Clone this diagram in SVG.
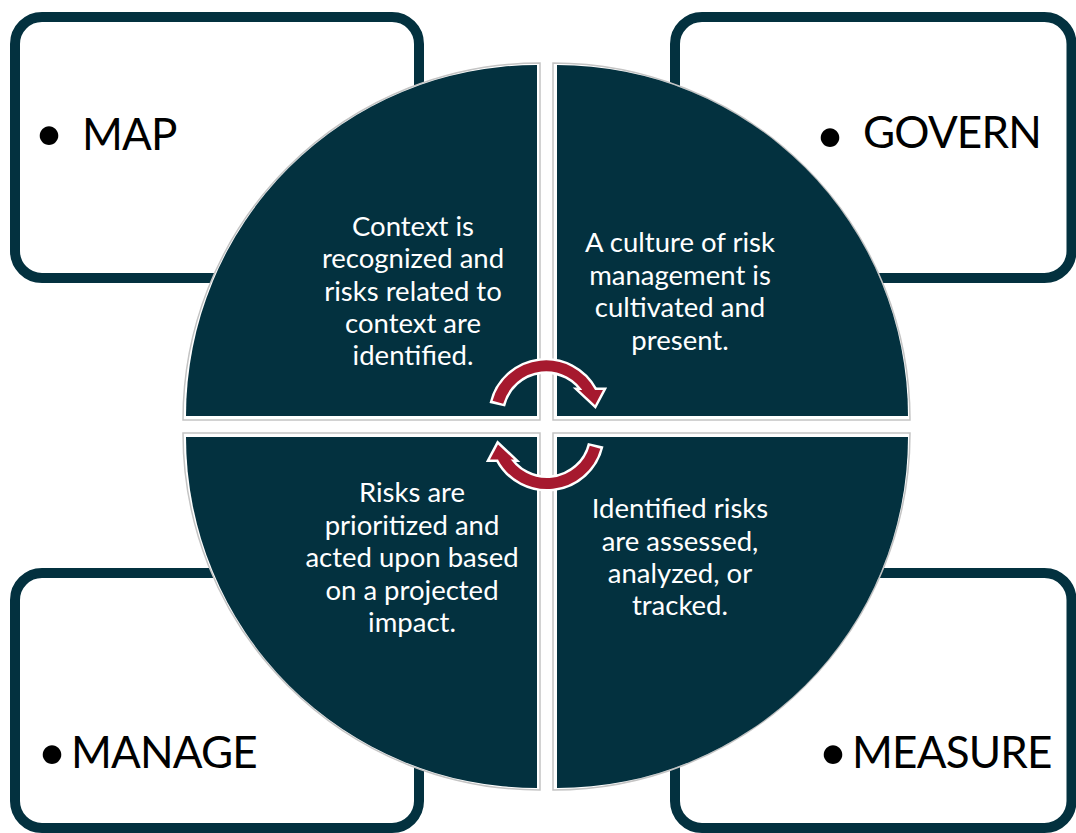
<svg xmlns="http://www.w3.org/2000/svg" width="1076" height="833" viewBox="0 0 1076 833">
<style>
.box{fill:#fff;stroke:#03313f;stroke-width:10}
.lbl{font-family:Lato,"Open Sans",sans-serif;font-size:44px;letter-spacing:-0.8px;fill:#000}
.bul{font-family:Lato,"Open Sans",sans-serif;font-size:50px;fill:#000;text-anchor:middle}
.ring{fill:#fff;stroke:#c4c4c4;stroke-width:1.5}
.q{fill:#03313f}
.qt{font-family:Lato,"Open Sans",sans-serif;font-size:27.5px;fill:#fff;text-anchor:middle}
.aw{fill:none;stroke:#fff;stroke-width:16}
.ar{fill:none;stroke:#a6192e;stroke-width:11}
.hw{fill:#fff;stroke:#fff;stroke-width:5;stroke-linejoin:miter}
.hr{fill:#a6192e}
</style>
<defs>
<g id="arrow">
<path class="aw" d="M497.3 404.7 A50 50 0 0 1 590.2 392.5"/>
<polygon class="hw" points="579,390 603,390 595,405"/>
<path class="ar" d="M497.9 402.2 A50 50 0 0 1 590.2 392.5"/>
<polygon class="hr" points="579,390 603,390 595,405"/>
</g>
</defs>
<g id="node-map">
<rect class="box" x="15" y="17" width="404" height="261" rx="27"/>
<text class="bul" x="49" y="151">•</text>
<text class="lbl" x="82" y="150">MAP</text>
</g>
<g id="node-govern">
<rect class="box" x="675" y="17" width="396.5" height="261" rx="27"/>
<text class="bul" x="830" y="153">•</text>
<text class="lbl" x="863" y="148">GOVERN</text>
</g>
<g id="node-manage">
<rect class="box" x="15" y="573" width="404" height="255" rx="27"/>
<text class="bul" x="52" y="770">•</text>
<text class="lbl" x="71" y="768">MANAGE</text>
</g>
<g id="node-measure">
<rect class="box" x="675" y="573" width="396.5" height="255" rx="27"/>
<text class="bul" x="833" y="770">•</text>
<text class="lbl" x="852" y="768">MEASURE</text>
</g>
<g id="quadrant-map">
<path class="ring" d="M540 420 L183 420 A357 357 0 0 1 540 63 Z"/>
<path class="q" d="M537 416 L186 416 A351 351 0 0 1 537 65 Z"/>
<text class="qt"><tspan x="413" y="236">Context is</tspan><tspan x="413" y="268">recognized and</tspan><tspan x="413" y="301">risks related to</tspan><tspan x="413" y="333">context are</tspan><tspan x="413" y="365">identified.</tspan></text>
</g>
<g id="quadrant-govern">
<path class="ring" d="M553 420 L553 63 A357 357 0 0 1 910 420 Z"/>
<path class="q" d="M557 416 L557 65 A351 351 0 0 1 908 416 Z"/>
<text class="qt"><tspan x="680" y="252">A culture of risk</tspan><tspan x="680" y="284.5">management is</tspan><tspan x="680" y="317">cultivated and</tspan><tspan x="680" y="349.5">present.</tspan></text>
</g>
<g id="quadrant-manage">
<path class="ring" d="M540 433 L540 790 A357 357 0 0 1 183 433 Z"/>
<path class="q" d="M537 437 L537 788 A351 351 0 0 1 186 437 Z"/>
<text class="qt"><tspan x="412" y="502">Risks are</tspan><tspan x="412" y="535">prioritized and</tspan><tspan x="412" y="567">acted upon based</tspan><tspan x="412" y="600">on a projected</tspan><tspan x="412" y="632">impact.</tspan></text>
</g>
<g id="quadrant-measure">
<path class="ring" d="M553 433 L910 433 A357 357 0 0 1 553 790 Z"/>
<path class="q" d="M557 437 L908 437 A351 351 0 0 1 557 788 Z"/>
<text class="qt"><tspan x="680" y="518">Identified risks</tspan><tspan x="680" y="551">are assessed,</tspan><tspan x="680" y="583">analyzed, or</tspan><tspan x="680" y="615">tracked.</tspan></text>
</g>
<g id="connectors">
<use href="#arrow"/>
<use href="#arrow" transform="rotate(180 546.5 424.7)"/>
</g>
</svg>
